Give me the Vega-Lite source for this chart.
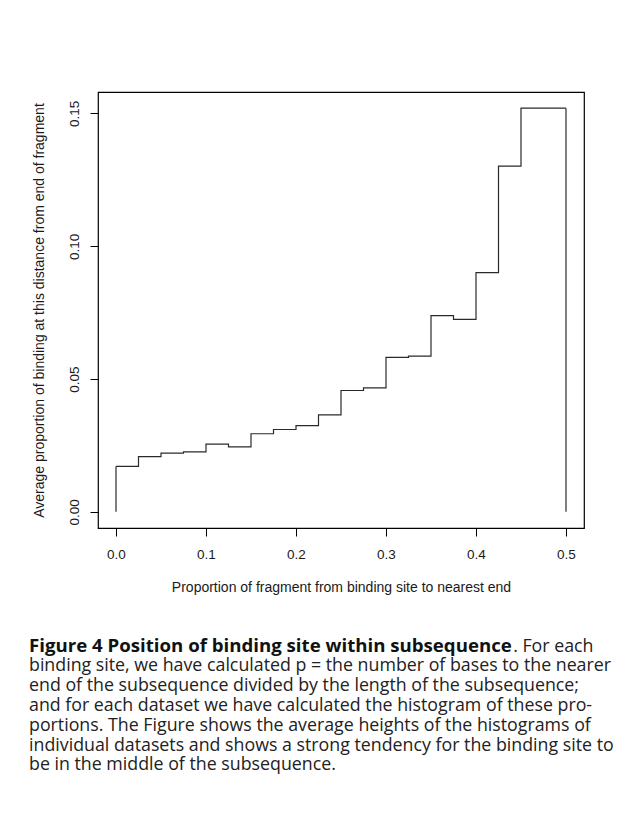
{
  "$schema": "https://vega.github.io/schema/vega-lite/v6.json",
  "autosize": "none",
  "width": 486,
  "height": 436,
  "padding": {"left": 98, "top": 92, "right": 52, "bottom": 303},
  "background": "white",
  "title": {
    "text": "Figure 4 Position of binding site within subsequence",
    "subtitle": [
      "binding site, we have calculated p = the number of bases to the nearer",
      "end of the subsequence divided by the length of the subsequence;",
      "and for each dataset we have calculated the histogram of these pro-",
      "portions. The Figure shows the average heights of the histograms of",
      "individual datasets and shows a strong tendency for the binding site to",
      "be in the middle of the subsequence."
    ],
    "orient": "bottom",
    "anchor": "start",
    "frame": "group",
    "dx": -69,
    "offset": -18,
    "font": "Open Sans",
    "fontSize": 18.65,
    "fontWeight": "bold",
    "color": "#111111",
    "subtitleFont": "Open Sans",
    "subtitleFontSize": 17.8,
    "subtitleFontWeight": "normal",
    "subtitleColor": "#222222",
    "subtitleLineHeight": 19.8,
    "subtitlePadding": 2
  },
  "data": {
    "values": [
      {"start": 0, "end": 0.025, "value": 0.0171},
      {"start": 0.025, "end": 0.05, "value": 0.0208},
      {"start": 0.05, "end": 0.075, "value": 0.0221},
      {"start": 0.075, "end": 0.1, "value": 0.0226},
      {"start": 0.1, "end": 0.125, "value": 0.0255},
      {"start": 0.125, "end": 0.15, "value": 0.0245},
      {"start": 0.15, "end": 0.175, "value": 0.0294},
      {"start": 0.175, "end": 0.2, "value": 0.031},
      {"start": 0.2, "end": 0.225, "value": 0.0325},
      {"start": 0.225, "end": 0.25, "value": 0.0365},
      {"start": 0.25, "end": 0.275, "value": 0.0457},
      {"start": 0.275, "end": 0.3, "value": 0.0467},
      {"start": 0.3, "end": 0.325, "value": 0.0582},
      {"start": 0.325, "end": 0.35, "value": 0.0586},
      {"start": 0.35, "end": 0.375, "value": 0.0739},
      {"start": 0.375, "end": 0.4, "value": 0.0725},
      {"start": 0.4, "end": 0.425, "value": 0.0901},
      {"start": 0.425, "end": 0.45, "value": 0.1302},
      {"start": 0.45, "end": 0.475, "value": 0.152},
      {"start": 0.475, "end": 0.5, "value": 0.152}
    ]
  },
  "transform": [{"fold": ["start", "end"], "as": ["edge", "x"]}],
  "encoding": {
    "y": {
      "field": "value",
      "type": "quantitative",
      "scale": {"domain": [-0.00608, 0.15808], "nice": false, "zero": false},
      "axis": {
        "title": "Average proportion of binding at this distance from end of fragment",
        "values": [0, 0.05, 0.1, 0.15],
        "format": ".2f",
        "labelAngle": -90,
        "labelAlign": "center",
        "labelBaseline": "bottom",
        "labelPadding": 9,
        "titlePadding": 21
      }
    }
  },
  "layer": [
    {
      "mark": {"type": "line", "color": "#2a2a2a", "strokeWidth": 1.2},
      "encoding": {
        "x": {
          "field": "x",
          "type": "quantitative",
          "scale": {"domain": [-0.02, 0.52], "nice": false, "zero": false},
          "axis": {
            "orient": "bottom",
            "title": "Proportion of fragment from binding site to nearest end",
            "values": [0, 0.1, 0.2, 0.3, 0.4, 0.5],
            "format": ".1f",
            "labelPadding": 11,
            "titlePadding": 20
          }
        },
        "order": [
          {"field": "x", "type": "quantitative"},
          {"field": "edge", "type": "nominal"}
        ]
      }
    },
    {
      "transform": [
        {"filter": "(datum.edge == 'start' && datum.x == 0) || (datum.edge == 'end' && datum.x == 0.5)"}
      ],
      "mark": {"type": "rule", "color": "#2a2a2a", "strokeWidth": 1.2},
      "encoding": {
        "x": {
          "field": "x",
          "type": "quantitative",
          "axis": {
            "orient": "top",
            "title": ". For each",
            "labels": false,
            "ticks": false,
            "domain": false,
            "grid": false,
            "titleX": 495,
            "titleY": 559,
            "titleAlign": "right",
            "titleAnchor": null,
            "titleBaseline": "alphabetic",
            "titleFont": "Open Sans",
            "titleFontSize": 17.8,
            "titleFontWeight": "normal",
            "titleColor": "#222222"
          }
        },
        "y2": {"datum": 0}
      }
    }
  ],
  "resolve": {"axis": {"x": "independent"}},
  "config": {
    "view": {"stroke": "#000000", "strokeWidth": 1.2},
    "axis": {
      "domain": false,
      "grid": false,
      "ticks": true,
      "tickSize": 8,
      "tickColor": "#000000",
      "tickWidth": 1,
      "labelFont": "Liberation Sans",
      "labelFontSize": 13.5,
      "labelColor": "#1a1a1a",
      "titleFont": "Liberation Sans",
      "titleFontSize": 14,
      "titleFontWeight": "normal",
      "titleColor": "#1a1a1a"
    }
  }
}
